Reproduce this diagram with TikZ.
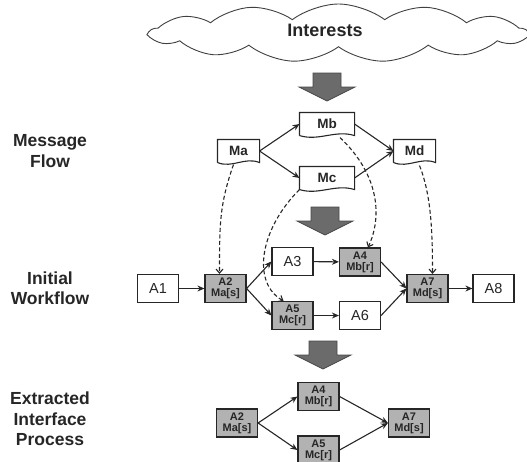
\documentclass[tikz,border=0pt]{standalone}
\usepackage{fontspec}
\setmainfont{Liberation Sans}
\usetikzlibrary{arrows.meta,shapes.symbols,calc}
\tikzset{every picture/.style={line width=1.1pt}}
\tikzset{
  lbl/.style={font=\bfseries\fontsize{17.5}{20.5}\selectfont, align=center, text=black!85},
  msg/.style={minimum width=41pt, minimum height=22pt, inner sep=0pt, font=\bfseries\fontsize{13.5}{13.5}\selectfont, text=black!85},
  act/.style={draw=black!85, line width=1.2pt, fill=white, minimum width=41pt, minimum height=28pt, inner sep=0pt, font=\fontsize{14.5}{14.5}\selectfont, text=black!85},
  iface/.style={act, fill=black!30, align=center, font=\bfseries\fontsize{11}{11.2}\selectfont},
  flow/.style={draw=black!85, -{Stealth[length=7pt,width=6pt]}},
  dep/.style={draw=black!85, dash pattern=on 4pt off 2.5pt, -{Straight Barb[length=4pt,width=7pt]}},
  bigarrow/.style={fill=black!58, draw=black!72, line width=0.8pt},
}

\begin{document}
\begin{tikzpicture}[x=1pt, y=-1pt]
    \useasboundingbox (0,0) rectangle (527,461);

    % interests cloud
    \node[cloud, draw=black!75, line width=0.9pt, fill=white, cloud puffs=13, cloud puff arc=75, cloud ignores aspect,
          minimum width=377pt, minimum height=58pt, inner sep=0pt] (cloud) at (338.5,33) {};
    \node[lbl, font=\bfseries\fontsize{18}{18}\selectfont] (interests) at (325,30) {Interests};

    % big arrows between the levels
    \foreach \cx/\ty in {327/73, 325/207, 323/341}
        \draw[bigarrow] (\cx-14,\ty) -- (\cx+14,\ty) -- (\cx+14,\ty+14) -- (\cx+28,\ty+14)
            -- (\cx,\ty+28) -- (\cx-28,\ty+14) -- (\cx-14,\ty+14) -- cycle;

    % row labels
    \node[lbl] (msgflow) at (50,151) {Message\\Flow};
    \node[lbl] (initwf) at (50,288) {Initial\\Workflow};
    \node[lbl] (extract) at (50,419) {Extracted\\Interface\\Process};

    % message flow
    \node[msg] (ma) at (238.5,151) {Ma};
    \node[msg, minimum width=54pt] (mb) at (327,124) {Mb};
    \node[msg, minimum width=54pt] (mc) at (327,178) {Mc};
    \node[msg] (md) at (414.5,151) {Md};
    \foreach \m in {ma,mb,mc,md}
        \draw[draw=black!85] (\m.south west) -- (\m.north west) -- (\m.north east) -- (\m.south east)
            .. controls ($(\m.south east)!0.35!(\m.south west)+(0,-6)$) and ($(\m.south east)!0.65!(\m.south west)+(0,6)$) .. (\m.south west);

    \draw[flow] (ma.east) -- (mb.west);
    \draw[flow] (ma.east) -- (mc.west);
    \draw[flow] (mb.east) -- (md.west);
    \draw[flow] (mc.east) -- (md.west);

    % initial workflow
    \node[act] (a1) at (158,288.5) {A1};
    \node[iface] (a2) at (225.5,288.5) {A2\\Ma[s]};
    \node[act] (a3) at (292.5,261.5) {A3};
    \node[iface] (a4) at (360,262) {A4\\Mb[r]};
    \node[iface] (a5) at (292.5,315.5) {A5\\Mc[r]};
    \node[act] (a6) at (360,315.5) {A6};
    \node[iface] (a7) at (427.5,288.5) {A7\\Md[s]};
    \node[act] (a8) at (493.5,288.5) {A8};

    \draw[flow] (a1) -- (a2);
    \draw[flow] (a2.east) -- (a3.west);
    \draw[flow] (a2.east) -- (a5.west);
    \draw[flow] (a3) -- (a4);
    \draw[flow] (a5) -- (a6);
    \draw[flow] (a4.east) -- (a7.west);
    \draw[flow] (a6.east) -- (a7.west);
    \draw[flow] (a7) -- (a8);

    % messages bound to activities
    \draw[dep] ($(ma.south)+(-5,2)$) .. controls +(-14,40) and +(0,-50) .. ([xshift=-6pt]a2.north);
    \draw[dep] ($(mb.south)+(13,2)$) .. controls +(40,38) and +(14,-30) .. ([xshift=8pt]a4.north);
    \draw[dep] (mc.south west) .. controls +(-40,40) and +(-32,-18) .. ([xshift=-9pt]a5.north);
    \draw[dep] ($(md.south)+(5,3)$) .. controls +(12,30) and +(0,-40) .. ([xshift=5pt]a7.north);

    % extracted interface process
    \node[iface] (x2) at (237,423) {A2\\Ma[s]};
    \node[iface] (x4) at (318.5,396.5) {A4\\Mb[r]};
    \node[iface] (x5) at (318.5,450) {A5\\Mc[r]};
    \node[iface] (x7) at (409,423) {A7\\Md[s]};

    \draw[flow] (x2.east) -- (x4.west);
    \draw[flow] (x2.east) -- (x5.west);
    \draw[flow] (x4.east) -- (x7.west);
    \draw[flow] (x5.east) -- (x7.west);
\end{tikzpicture}
\end{document}
